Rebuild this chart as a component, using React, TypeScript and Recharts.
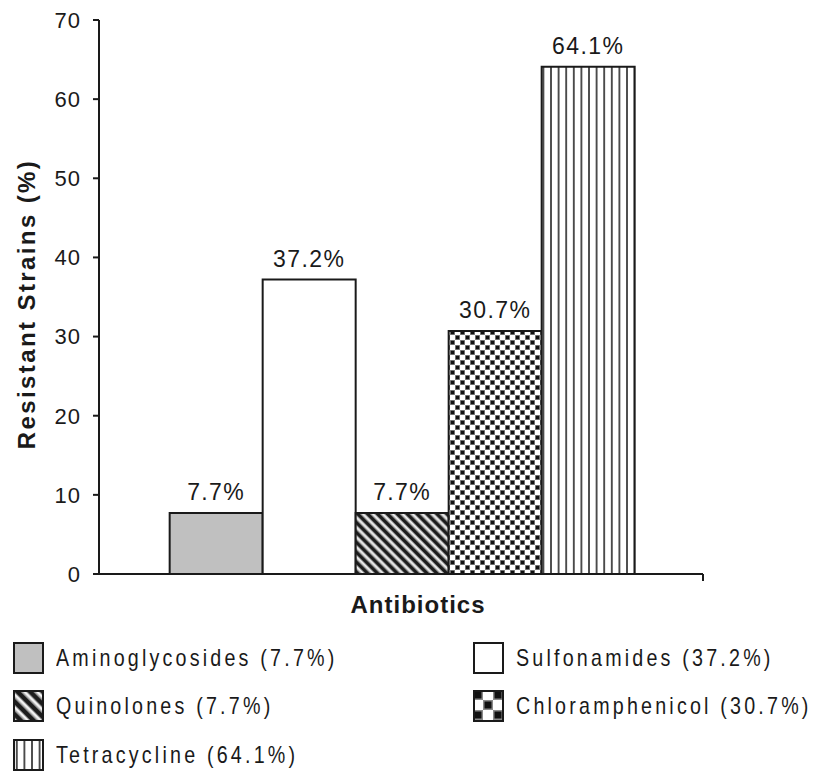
import { Bar, BarChart, LabelList, XAxis, YAxis } from 'recharts'

const categories = ['Antibiotics']
const seriesNames = ['Aminoglycosides', 'Sulfonamides', 'Quinolones', 'Chloramphenicol', 'Tetracycline']
const seriesValues = [7.7, 37.2, 7.7, 30.7, 64.1]
const yTicks = [0, 10, 20, 30, 40, 50, 60, 70]
const fills = ['#c0c0c0', '#ffffff', 'url(#diag)', 'url(#checker)', 'url(#vlines)']
// the legend swatches use a coarser version of the same hatching
const legendFills = ['#c0c0c0', '#ffffff', 'url(#diag-lg)', 'url(#checker-lg)', 'url(#vlines)']

const data = categories.map(name => {
  const row: Record<string, string | number> = { name }
  seriesNames.forEach((s, i) => {
    row[s] = seriesValues[i]
  })
  return row
})

const INK = '#1a1a1a'
const FONT = 'Liberation Sans, Arial, sans-serif'

function Checker({ id, c }: { id: string; c: number }) {
  const d = c * 0.15
  return (
    <pattern id={id} width={c * 2} height={c * 2} patternUnits="userSpaceOnUse">
      <rect width={c * 2} height={c * 2} fill="#ffffff" />
      <rect x={0} y={0} width={c} height={c} fill="#8a8a8a" />
      <rect x={c} y={c} width={c} height={c} fill="#8a8a8a" />
      <rect x={d} y={d} width={c - 2 * d} height={c - 2 * d} fill="#111" />
      <rect x={c + d} y={c + d} width={c - 2 * d} height={c - 2 * d} fill="#111" />
    </pattern>
  )
}

function Diag({ id, p }: { id: string; p: number }) {
  return (
    <pattern id={id} width={p} height={p} patternUnits="userSpaceOnUse" patternTransform="rotate(-45)">
      <rect width={p} height={p} fill="#f2f2f2" />
      <rect x={0} width={p * 0.5} height={p} fill="#1c1c1c" />
      <rect x={p * 0.5} width={p * 0.11} height={p} fill="#888" />
      <rect x={p * 0.89} width={p * 0.11} height={p} fill="#888" />
    </pattern>
  )
}

// patterns live in a hidden svg so both the chart and the legend icons can use them
function Patterns() {
  return (
    <svg width={0} height={0} style={{ position: 'absolute' }}>
      <defs>
        <Diag id="diag" p={7} />
        <Diag id="diag-lg" p={9} />
        <Checker id="checker" c={5} />
        <Checker id="checker-lg" c={10} />
        <pattern id="vlines" width={7.6} height={10} patternUnits="userSpaceOnUse">
          <rect width={7.6} height={10} fill="#ffffff" />
          <rect x={3} width={1.6} height={10} fill="#2a2a2a" />
        </pattern>
      </defs>
    </svg>
  )
}

function CategoryTick(props: any) {
  const { x, y, payload } = props
  const off = payload?.offset ?? 302
  return <line x1={x + off} y1={y} x2={x + off} y2={y + 7} stroke={INK} strokeWidth={2} />
}

function XTitle(props: any) {
  const vb = props.viewBox
  return (
    <text
      x={vb.x + vb.width / 2 + 17}
      y={vb.y + 39}
      textAnchor="middle"
      fontFamily={FONT}
      fontWeight="bold"
      fontSize={24}
      letterSpacing={1}
      fill={INK}
    >
      Antibiotics
    </text>
  )
}

function YTitle() {
  return (
    <text
      x={0}
      y={0}
      transform="translate(35, 304) rotate(-90)"
      textAnchor="middle"
      fontFamily={FONT}
      fontWeight="bold"
      fontSize={24}
      letterSpacing={2.4}
      fill={INK}
    >
      Resistant Strains (%)
    </text>
  )
}

const legendPos = [
  { left: 13, top: 642 },
  { left: 473, top: 642 },
  { left: 13, top: 690 },
  { left: 473, top: 690 },
  { left: 13, top: 739 },
]

export default function App() {
  return (
    <div style={{ position: 'absolute', left: 0, top: 0, width: 815, height: 772, background: '#fff' }}>
      <Patterns />
      <BarChart
        width={815}
        height={630}
        data={data}
        margin={{ top: 20, right: 112, bottom: 16, left: 0 }}
        barCategoryGap="11.7%"
        barGap={0}
      >
        <XAxis
          dataKey="name"
          height={40}
          axisLine={{ stroke: INK, strokeWidth: 2 }}
          tickLine={false}
          tickSize={0}
          tickMargin={0}
          tick={<CategoryTick />}
          label={<XTitle />}
        />
        <YAxis
          width={99}
          domain={[0, 70]}
          ticks={yTicks}
          interval={0}
          axisLine={{ stroke: INK, strokeWidth: 2 }}
          tickLine={{ stroke: INK, strokeWidth: 2 }}
          tickSize={6}
          tickMargin={12}
          tick={{ fill: INK, fontSize: 22, fontFamily: FONT, letterSpacing: 1 }}
          label={<YTitle />}
        />
        {seriesNames.map((s, i) => (
          <Bar key={s} dataKey={s} fill={fills[i]} stroke={INK} strokeWidth={2} isAnimationActive={false}>
            <LabelList
              dataKey={s}
              position="top"
              offset={13}
              formatter={(v: any) => `${v}%`}
              style={{ fill: INK, fontSize: 23, fontFamily: FONT, letterSpacing: 1.4 }}
            />
          </Bar>
        ))}
      </BarChart>
      {seriesNames.map((s, i) => (
        <div
          key={s}
          style={{
            position: 'absolute',
            left: legendPos[i].left,
            top: legendPos[i].top,
            display: 'flex',
            alignItems: 'center',
            height: 32,
          }}
        >
          <svg width={31} height={32}>
            <rect x={1} y={1} width={29} height={30} fill={legendFills[i]} stroke={INK} strokeWidth={2} />
          </svg>
          <span
            style={{
              display: 'inline-block',
              marginLeft: 12,
              fontFamily: FONT,
              fontSize: 24,
              letterSpacing: 3.9,
              color: INK,
              whiteSpace: 'nowrap',
              transform: 'scaleX(0.82)',
              transformOrigin: 'left center',
            }}
          >
            {s} ({seriesValues[i]}%)
          </span>
        </div>
      ))}
    </div>
  )
}
